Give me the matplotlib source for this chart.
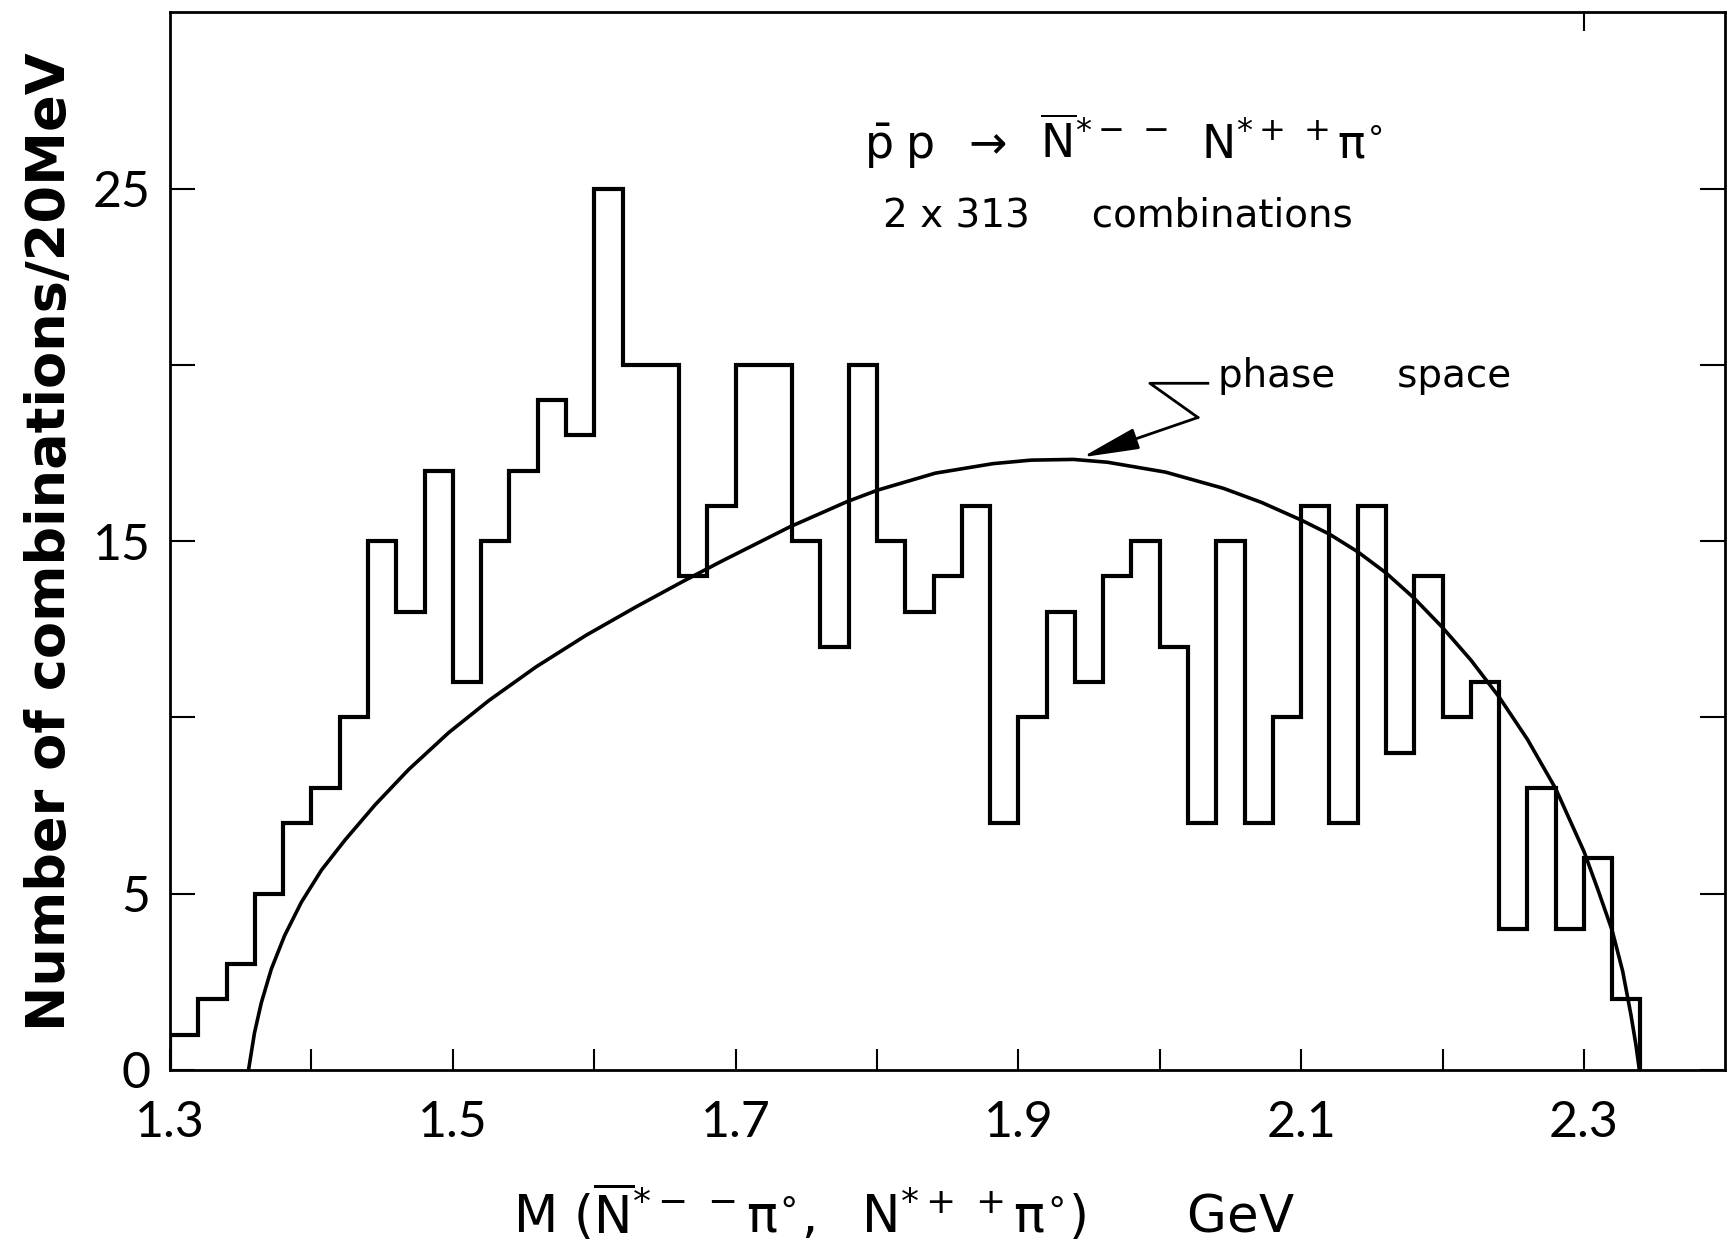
import numpy as np
import matplotlib
matplotlib.use("Agg")
from matplotlib import pyplot as plt

# counts per 20 MeV bin, first bin starts at 1.30 GeV
bin_lo = 1.30
bin_width = 0.02
counts = [1, 2, 3, 5, 7, 8, 10, 15, 13, 17,
          11, 15, 17, 19, 18, 25, 20, 20, 14, 16,
          20, 20, 15, 12, 20, 15, 13, 14, 16, 7,
          10, 13, 11, 14, 15, 12, 7, 15, 7, 10,
          16, 7, 16, 9, 14, 10, 11, 4, 8, 4,
          6, 2]

ps_mass = [1.3555, 1.3597, 1.3645, 1.3716, 1.381, 1.3929, 1.4071, 1.4237, 1.445, 1.4687,
           1.4971, 1.5255, 1.5587, 1.5942, 1.6297, 1.6628, 1.690, 1.738, 1.7787, 1.8005,
           1.8412, 1.882, 1.909, 1.939, 1.963, 2.004, 2.045, 2.072, 2.10, 2.12,
           2.14, 2.16, 2.18, 2.20, 2.22, 2.24, 2.26, 2.28, 2.30, 2.31,
           2.32, 2.3274, 2.3333, 2.3368, 2.3392]
ps_count = [0.0, 1.05, 1.9, 2.86, 3.81, 4.76, 5.67, 6.52, 7.52, 8.52,
            9.57, 10.48, 11.43, 12.33, 13.14, 13.86, 14.43, 15.4, 16.12, 16.45,
            16.93, 17.2, 17.3, 17.32, 17.24, 16.96, 16.5, 16.1, 15.6, 15.2,
            14.7, 14.1, 13.38, 12.55, 11.63, 10.58, 9.38, 7.98, 6.2, 5.1,
            3.95, 2.8, 1.55, 0.7, 0.0]

x_ticks = [1.3, 1.4, 1.5, 1.6, 1.7, 1.8, 1.9, 2.0, 2.1, 2.2, 2.3]
x_labels = ["1.3", "", "1.5", "", "1.7", "", "1.9", "", "2.1", "", "2.3"]
y_ticks = [0, 5, 10, 15, 20, 25]
y_labels = ["0", "5", "", "15", "", "25"]

# zig-zag pointer from the "phase space" label to the curve
ptr_x = [2.034, 1.993, 2.027]
ptr_y = [19.48, 19.48, 18.51]
ptr_tip = (1.945, 17.38)

tick_font = ["Lato", "DejaVu Sans"]
plt.rcParams["font.family"] = ["DejaVu Sans"]
plt.rcParams["mathtext.fontset"] = "dejavusans"

fig = plt.figure(figsize=(17.3, 12.47), dpi=100)
ax = fig.add_axes([0.0983, 0.142, 0.899, 0.848])

edges = bin_lo + bin_width * np.arange(len(counts) + 1)
ax.stairs(counts, edges, baseline=0, color="black", linewidth=3.0)
ax.plot(ps_mass, ps_count, color="black", linewidth=2.6,
        solid_joinstyle="round")

ax.plot(ptr_x, ptr_y, color="black", linewidth=2.0)
ax.annotate("", xy=ptr_tip, xytext=(ptr_x[-1], ptr_y[-1]),
            arrowprops=dict(arrowstyle="-|>,head_length=1.6,head_width=0.3",
                            color="black", lw=2.0, mutation_scale=22,
                            shrinkA=0, shrinkB=0))
ax.text(2.041, 19.7, "phase     space", fontsize=28, va="center", ha="left")

ax.text(1.791, 26.35,
        r"$\bar{\rm p}\;{\rm p}\;\; \rightarrow \;\;\overline{\rm N}^{*-\,-}\;\;{\rm N}^{*+\,+}\pi^{\circ}$",
        fontsize=33, va="center", ha="left")
ax.text(1.804, 24.24, "2 x 313     combinations", fontsize=28,
        va="center", ha="left")

ax.set_xlim(1.3, 2.4)
ax.set_ylim(0, 30)
ax.set_xticks(x_ticks)
ax.set_xticklabels(x_labels, family=tick_font, fontsize=36)
ax.set_yticks(y_ticks)
ax.set_yticklabels(y_labels, family=tick_font, fontsize=36)
ax.tick_params(axis="x", direction="in", length=15, width=1.5, pad=22)
ax.tick_params(axis="y", direction="in", length=18, width=1.5, pad=14,
               right=True)
for s in ax.spines.values():
    s.set_linewidth(2.0)

top = ax.secondary_xaxis("top")
top.set_xticks([2.3])
top.tick_params(direction="in", length=14, width=1.5, labeltop=False)

ax.set_xlabel(r"M $(\overline{\rm N}^{*-\,-}\pi^{\circ},\ \ {\rm N}^{*+\,+}\pi^{\circ})$      GeV",
              fontsize=37, labelpad=26, x=0.472)
ax.set_ylabel("Number of combinations/20MeV", fontsize=39,
              fontweight="bold", labelpad=12)

fig.savefig("out.png", dpi=100, facecolor="white")
